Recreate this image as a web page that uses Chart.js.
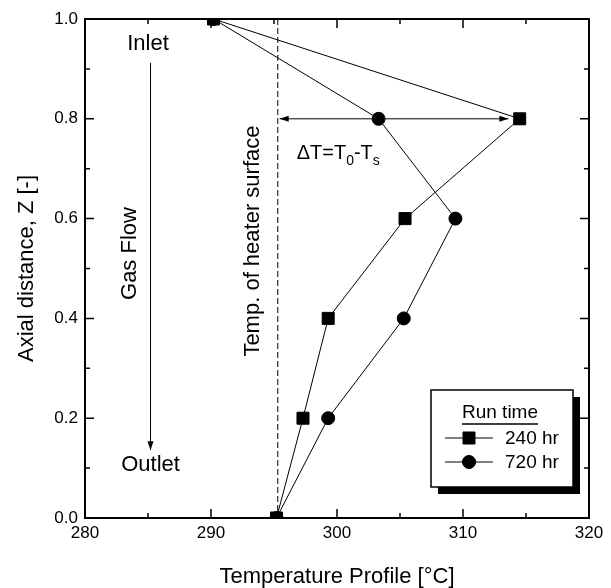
<!DOCTYPE html>
<html>
<head>
<meta charset="utf-8">
<script src="https://cdn.jsdelivr.net/npm/chart.js@4.4.0/dist/chart.umd.min.js"></script>
<style>
    html, body { margin: 0; padding: 0; background: #fff; }
</style>
</head>
<body>
<canvas id="temp-profile" width="611" height="588"></canvas>
<script>
    // ------------------- Data ------------------
    const axialZ = [1.0, 0.8, 0.6, 0.4, 0.2, 0.0];
    const temp240 = [290.2, 314.5, 305.4, 299.3, 297.3, 295.2];
    const temp720 = [290.2, 303.3, 309.4, 305.3, 299.3, 295.2];
    const runLabels = ['240 hr', '720 hr'];
    const surfaceTemp = 295.3;
    const xTickLabels = [280, 290, 300, 310, 320];
    const yTickLabels = [0.0, 0.2, 0.4, 0.6, 0.8, 1.0];

    const FONT = "'Liberation Sans', Arial, sans-serif";

    function toPoints(xs, ys) {
        return xs.map((x, i) => ({ x: x, y: ys[i] }));
    }

    function arrowHead(ctx, x, y, angle) {
        ctx.save();
        ctx.translate(x, y);
        ctx.rotate(angle);
        ctx.beginPath();
        ctx.moveTo(0, 0);
        ctx.lineTo(-9, -3);
        ctx.lineTo(-9, 3);
        ctx.closePath();
        ctx.fill();
        ctx.restore();
    }

    function rotatedText(ctx, text, x, y) {
        ctx.save();
        ctx.translate(x, y);
        ctx.rotate(-Math.PI / 2);
        ctx.textAlign = 'center';
        ctx.textBaseline = 'middle';
        ctx.fillText(text, 0, 0);
        ctx.restore();
    }

    // ------------------- Frame, inward ticks, notes and legend ------------------
    const annotations = {
        id: 'annotations',
        afterDatasetsDraw(chart) {
            const { ctx, chartArea: a, scales: { x, y } } = chart;
            ctx.save();
            ctx.strokeStyle = '#000';
            ctx.fillStyle = '#000';

            // frame
            ctx.lineWidth = 2;
            ctx.strokeRect(a.left, a.top, a.right - a.left, a.bottom - a.top);

            // ticks on all four sides
            ctx.lineWidth = 1.5;
            ctx.beginPath();
            for (let t = 280; t <= 320; t += 5) {
                const px = x.getPixelForValue(t);
                const len = t % 10 === 0 ? 9 : 5;
                ctx.moveTo(px, a.bottom); ctx.lineTo(px, a.bottom - len);
                ctx.moveTo(px, a.top); ctx.lineTo(px, a.top + len);
            }
            for (let i = 0; i <= 10; i++) {
                const py = y.getPixelForValue(i / 10);
                const len = i % 2 === 0 ? 9 : 5;
                ctx.moveTo(a.left, py); ctx.lineTo(a.left + len, py);
                ctx.moveTo(a.right, py); ctx.lineTo(a.right - len, py);
            }
            ctx.stroke();

            // heater surface line
            const sx = x.getPixelForValue(surfaceTemp);
            ctx.lineWidth = 1;
            ctx.setLineDash([6, 3]);
            ctx.beginPath();
            ctx.moveTo(sx, a.top);
            ctx.lineTo(sx, a.bottom);
            ctx.stroke();
            ctx.setLineDash([]);

            // delta T arrow
            const ay = y.getPixelForValue(0.8);
            const ax1 = x.getPixelForValue(295.45);
            const ax2 = x.getPixelForValue(313.6);
            ctx.beginPath();
            ctx.moveTo(ax1, ay);
            ctx.lineTo(ax2, ay);
            ctx.stroke();
            arrowHead(ctx, ax1, ay, Math.PI);
            arrowHead(ctx, ax2, ay, 0);

            // gas flow arrow
            const fx = x.getPixelForValue(285.2);
            const fy1 = y.getPixelForValue(0.912);
            const fy2 = y.getPixelForValue(0.136);
            ctx.beginPath();
            ctx.moveTo(fx, fy1);
            ctx.lineTo(fx, fy2);
            ctx.stroke();
            arrowHead(ctx, fx, fy2, Math.PI / 2);

            // texts
            ctx.font = '22px ' + FONT;
            ctx.textAlign = 'center';
            ctx.textBaseline = 'middle';
            ctx.fillText('Inlet', x.getPixelForValue(285.0), y.getPixelForValue(0.95));
            ctx.fillText('Outlet', x.getPixelForValue(285.2), y.getPixelForValue(0.106));
            rotatedText(ctx, 'Gas Flow', x.getPixelForValue(283.6), y.getPixelForValue(0.53));
            rotatedText(ctx, 'Temp. of heater surface', x.getPixelForValue(293.3), y.getPixelForValue(0.555));

            // delta T label with subscripts
            let tx = x.getPixelForValue(296.8);
            const ty = y.getPixelForValue(0.731);
            ctx.textAlign = 'left';
            const parts = [['\u0394T=T', false], ['0', true], ['-T', false], ['s', true]];
            parts.forEach(([s, sub]) => {
                ctx.font = (sub ? '14px ' : '20px ') + FONT;
                ctx.fillText(s, tx, sub ? ty + 8 : ty);
                tx += ctx.measureText(s).width;
            });

            // legend box with shadow
            const bl = a.right - 158, bt = a.bottom - 128, bw = 142, bh = 97;
            ctx.fillRect(bl + 7, bt + 7, bw, bh);
            ctx.fillStyle = '#fff';
            ctx.fillRect(bl, bt, bw, bh);
            ctx.fillStyle = '#000';
            ctx.lineWidth = 1.5;
            ctx.strokeRect(bl, bt, bw, bh);

            ctx.font = '19px ' + FONT;
            ctx.textAlign = 'center';
            ctx.fillText('Run time', bl + 69, bt + 23);
            const uw = ctx.measureText('Run time').width;
            ctx.beginPath();
            ctx.moveTo(bl + 69 - uw / 2, bt + 34);
            ctx.lineTo(bl + 69 + uw / 2, bt + 34);
            ctx.stroke();

            ctx.textAlign = 'left';
            chart.data.datasets.forEach((ds, i) => {
                const ry = bt + 48 + i * 24;
                ctx.lineWidth = 1;
                ctx.beginPath();
                ctx.moveTo(bl + 14, ry);
                ctx.lineTo(bl + 62, ry);
                ctx.stroke();
                Chart.helpers.drawPoint(ctx, {
                    pointStyle: ds.pointStyle,
                    radius: ds.pointRadius,
                    borderWidth: 1
                }, bl + 38, ry);
                ctx.fill();
                ctx.fillText(ds.label, bl + 74, ry + 1);
            });
            ctx.restore();
        }
    };

    // ------------------- Chart Config ------------------
    function temperatureProfile() {
        const data = {
            datasets: [{
                label: runLabels[0],
                data: toPoints(temp240, axialZ),
                pointStyle: 'rect',
                pointRadius: 8.5,
                backgroundColor: '#000',
                borderColor: '#000',
                borderWidth: 1,
                showLine: true
            }, {
                label: runLabels[1],
                data: toPoints(temp720, axialZ),
                pointStyle: 'circle',
                pointRadius: 6.5,
                backgroundColor: '#000',
                borderColor: '#000',
                borderWidth: 1,
                showLine: true
            }]
        };

        const chartOptions = {
            responsive: false,
            animation: false,
            layout: { padding: { top: 19, right: 22, left: 0, bottom: 0 } },
            plugins: {
                legend: { display: false },
                tooltip: { enabled: false }
            },
            scales: {
                x: {
                    type: 'linear',
                    min: 280,
                    max: 320,
                    afterBuildTicks: (scale) => { scale.ticks = xTickLabels.map(v => ({ value: v })); },
                    afterFit: (scale) => { scale.height = 70; },
                    grid: { display: false, drawTicks: false },
                    border: { display: false },
                    ticks: {
                        autoSkip: false,
                        maxRotation: 0,
                        padding: 5,
                        color: '#000',
                        font: { family: FONT, size: 17 }
                    },
                    title: {
                        display: true,
                        text: 'Temperature Profile [\u00b0C]',
                        color: '#000',
                        font: { family: FONT, size: 22, lineHeight: 1 },
                        padding: { top: 0, bottom: 0 }
                    }
                },
                y: {
                    type: 'linear',
                    min: 0,
                    max: 1,
                    afterBuildTicks: (scale) => { scale.ticks = yTickLabels.map(v => ({ value: v })); },
                    afterFit: (scale) => { scale.width = 85; },
                    grid: { display: false, drawTicks: false },
                    border: { display: false },
                    ticks: {
                        padding: 7,
                        color: '#000',
                        font: { family: FONT, size: 17 },
                        callback: (v) => Number(v).toFixed(1)
                    },
                    title: {
                        display: true,
                        text: 'Axial distance, Z [-]',
                        color: '#000',
                        font: { family: FONT, size: 22, lineHeight: 1 },
                        padding: { top: 16, bottom: 0 }
                    }
                }
            }
        };

        const config = {
            type: 'scatter',
            data: data,
            options: chartOptions,
            plugins: [annotations]
        };

        const myChart = new Chart(
            document.getElementById('temp-profile'),
            config
        );
    }

    temperatureProfile();
</script>
</body>
</html>
